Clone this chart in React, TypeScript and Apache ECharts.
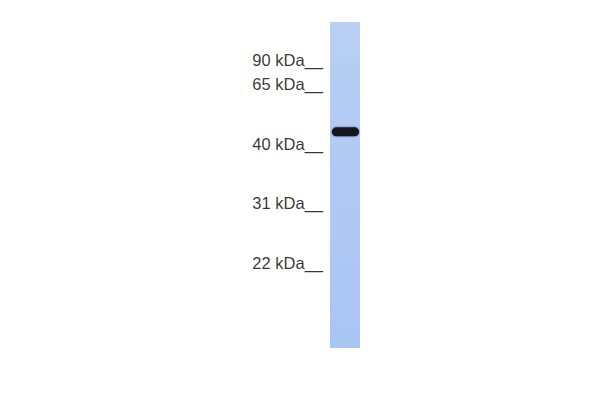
import { useEffect, useRef } from "react";
import * as echarts from "echarts";

// one lane; positions are migration in % of the lane length (top = 0), x in lane widths
const LANE_SPAN = [[0, 1, 0, 100]];
const MARKER_KDA = [90, 65, 40, 31, 22];
const MARKER_MIGRATION = [11.75, 19.0, 37.3, 55.4, 73.8];
const BAND_MIGRATION = [33.7];
const BAND_HEIGHT = [9];
const BAND_X = [[0.06, 0.97]];

const FONT = { fontFamily: "'Liberation Sans', Arial, sans-serif", fontSize: 16.5, color: "#000000" };

export default function App() {
  const ref = useRef<HTMLDivElement>(null);

  useEffect(() => {
    if (!ref.current) return;
    const chart = echarts.init(ref.current, null, { renderer: "svg" });
    chart.setOption({
      animation: false,
      backgroundColor: "#ffffff",
      grid: { left: 330, top: 22, width: 30, height: 326 },
      xAxis: { type: "value", min: 0, max: 1, show: false },
      yAxis: { type: "value", min: 0, max: 100, inverse: true, show: false },
      series: [
        {
          type: "custom", silent: true,
          data: LANE_SPAN,
          renderItem: (_p: any, api: any) => {
            const a = api.coord([api.value(0), api.value(2)]);
            const b = api.coord([api.value(1), api.value(3)]);
            return {
              type: "rect",
              shape: { x: a[0], y: a[1], width: b[0] - a[0], height: b[1] - a[1] },
              style: {
                fill: new echarts.graphic.LinearGradient(0, 0, 0, 1, [
                  { offset: 0, color: "#b9cff3" },
                  { offset: 1, color: "#a9c5f4" },
                ]),
              },
            };
          },
        },
        {
          type: "custom", silent: true,
          data: BAND_MIGRATION.map((m, i) => [BAND_X[i][0], BAND_X[i][1], m, BAND_HEIGHT[i]]),
          renderItem: (_p: any, api: any) => {
            const a = api.coord([api.value(0), api.value(2)]);
            const b = api.coord([api.value(1), api.value(2)]);
            const h = api.value(3) as number;
            return {
              type: "rect",
              shape: { x: a[0], y: a[1] - h / 2, width: b[0] - a[0], height: h, r: [h / 2, h / 2, h / 2, h / 2] },
              style: { fill: "#15181f", shadowBlur: 2, shadowColor: "rgba(30,45,90,0.6)" },
            };
          },
        },
        {
          type: "scatter", symbolSize: 0, silent: true,
          data: MARKER_MIGRATION.map((m) => [0, m]),
          label: {
            show: true, position: "left", distance: 7, ...FONT,
            formatter: (p: any) => `${MARKER_KDA[p.dataIndex]} kDa__`,
          },
        },
      ],
    });
    return () => chart.dispose();
  }, []);

  return <div ref={ref} style={{ position: "fixed", left: 0, top: 0, width: 600, height: 400 }} />;
}
